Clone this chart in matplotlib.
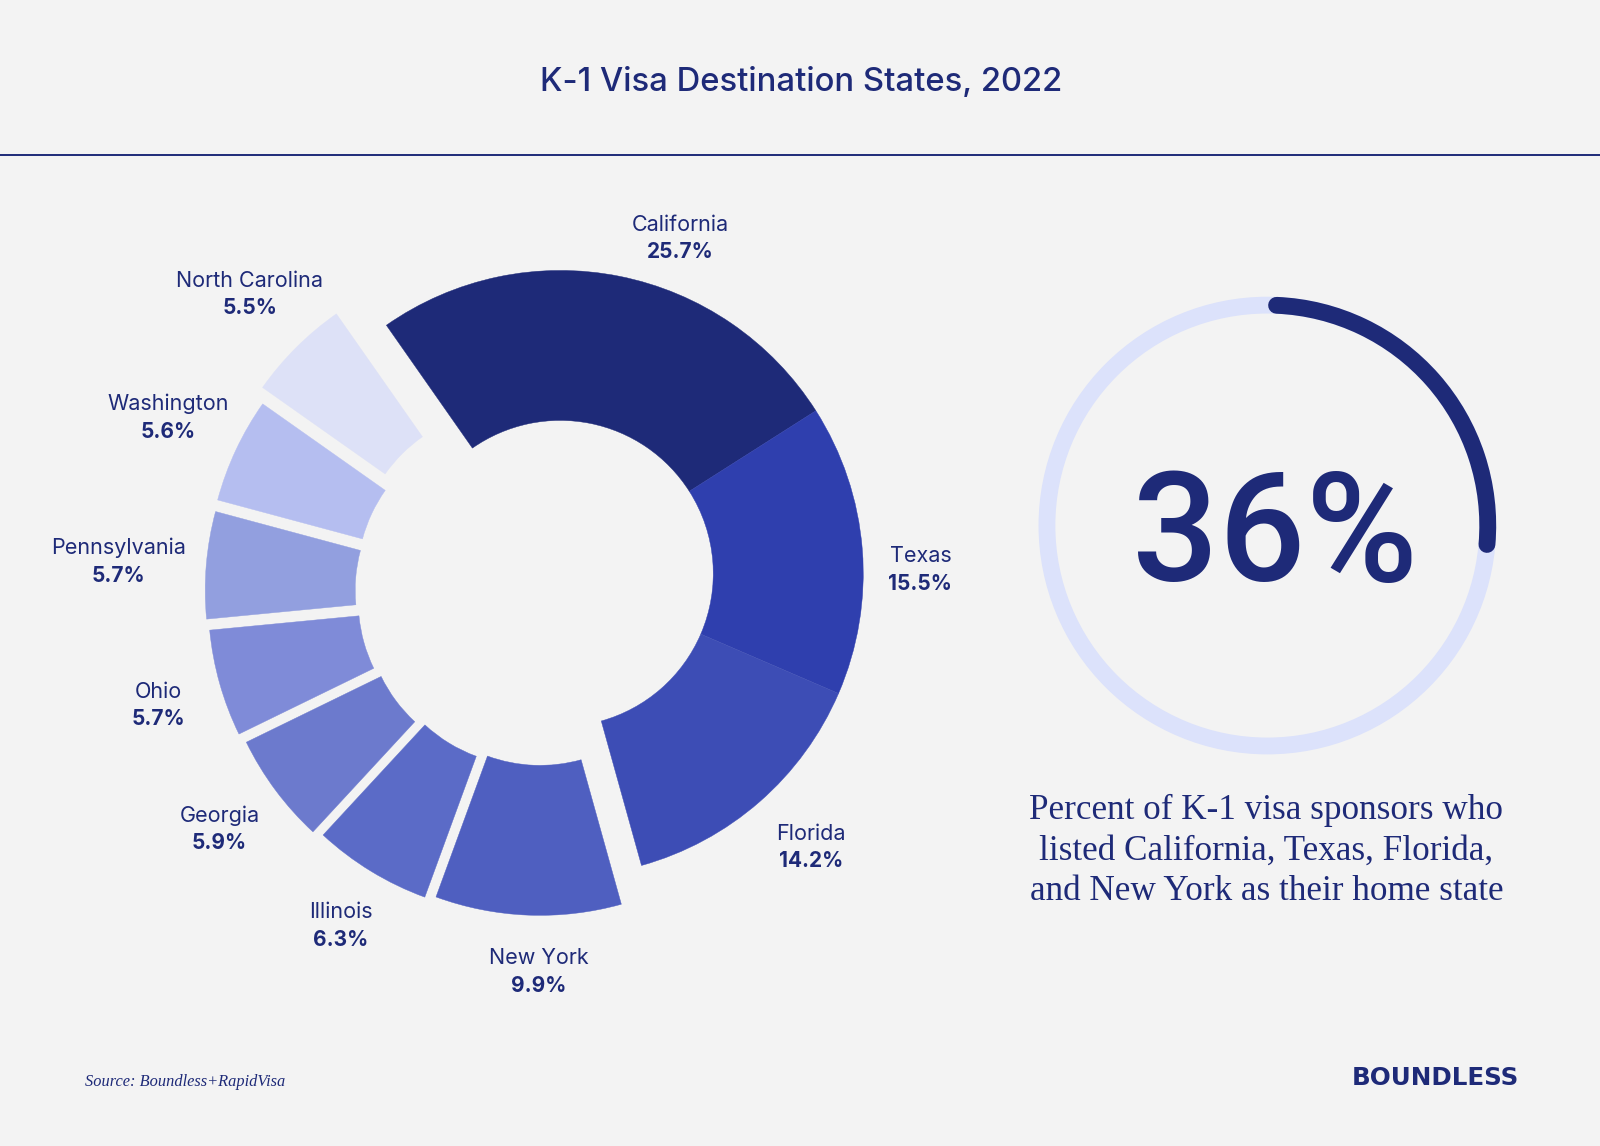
import matplotlib
matplotlib.use("Agg")
import matplotlib.pyplot as plt
from matplotlib.patches import Arc, Circle

W, H = 1568.0, 1123.0
BG = "#F3F3F3"
NAVY = "#1E2A78"

states = ["California", "Texas", "Florida", "New York", "Illinois", "Georgia",
          "Ohio", "Pennsylvania", "Washington", "North Carolina"]
shares = [25.7, 15.5, 14.2, 9.9, 6.3, 5.9, 5.7, 5.7, 5.6, 5.5]
colors = ["#1E2A78", "#2F3FAE", "#3D4DB5", "#4F5FC0", "#5B6BC7", "#6C7ACD",
          "#7F8BD8", "#929FDF", "#B5BEF0", "#DDE1F7"]
explode = [0, 0, 0, 19, 22.5, 27, 30, 32, 33, 42.5]
top4_pct = 36
arc_drawn_pct = 25.7

label_xy = [(667, 232), (902, 557), (795, 829), (528, 951), (334, 906), (215, 811),
            (155, 690), (116, 549), (165, 408), (245, 287)]


def Y(y):
    return H - y


fig = plt.figure(figsize=(16, 11.46), dpi=100, facecolor=BG)
ax = fig.add_axes([0, 0, 1, 1])
ax.set_facecolor(BG)

wedges, _ = ax.pie(shares, colors=colors, explode=explode, center=(530, Y(581)), radius=297,
                   startangle=125, counterclock=False, frame=True,
                   wedgeprops=dict(width=147, linewidth=0))
for w, c in zip(wedges, colors):
    w.set_edgecolor(c)
    w.set_linewidth(0.3)
for w in wedges[:3]:
    w.set_center((549, Y(562)))

ax.set_xlim(0, W)
ax.set_ylim(0, H)
ax.set_aspect("auto")
ax.axis("off")

# header
ax.text(785, Y(81), "K-1 Visa Destination States, 2022", ha="center", va="center",
        family="Inter", weight="medium", size=23.6, color=NAVY)
ax.plot([0, W], [Y(152), Y(152)], color=NAVY, lw=1.4)

# donut labels
for name, val, (x, y) in zip(states, shares, label_xy):
    ax.text(x, Y(y - 12), name, ha="center", va="center", family="Inter", size=15.5,
            color=NAVY, weight="regular")
    ax.text(x, Y(y + 15), f"{val}%", ha="center", va="center", family="Inter", size=15,
            color=NAVY, weight="bold")

# progress ring
cx, cy, r = 1242, Y(515), 216
lw = 16.5 * 72 / 100 * 1600 / W
ax.add_patch(Circle((cx, cy), r, fill=False, ec="#DCE2FB", lw=lw))
ax.add_patch(Arc((cx, cy), 2 * r, 2 * r, theta1=90 - 2.4 - arc_drawn_pct * 3.6, theta2=87.6,
                 ec=NAVY, lw=lw, capstyle="round"))
ax.text(1249, Y(513), f"{top4_pct}%", ha="center", va="center_baseline", family="Roboto", size=110,
        color=NAVY, weight="medium")

for y, line in zip([794, 834, 874], ["Percent of K-1 visa sponsors who",
                                     "listed California, Texas, Florida,",
                                     "and New York as their home state"]):
    ax.text(1241, Y(y), line, ha="center", va="center", family="Liberation Serif",
            size=25.3, color=NAVY)

ax.text(83, Y(1060), "Source: Boundless+RapidVisa", ha="left", va="center",
        family="Liberation Serif", style="italic", size=11.8, color=NAVY)
ax.text(1489, Y(1056), "BOUNDLESS", ha="right", va="center", family="DejaVu Sans",
        weight="bold", size=17.7, color=NAVY)

fig.savefig("out.png", dpi=100, facecolor=BG)
